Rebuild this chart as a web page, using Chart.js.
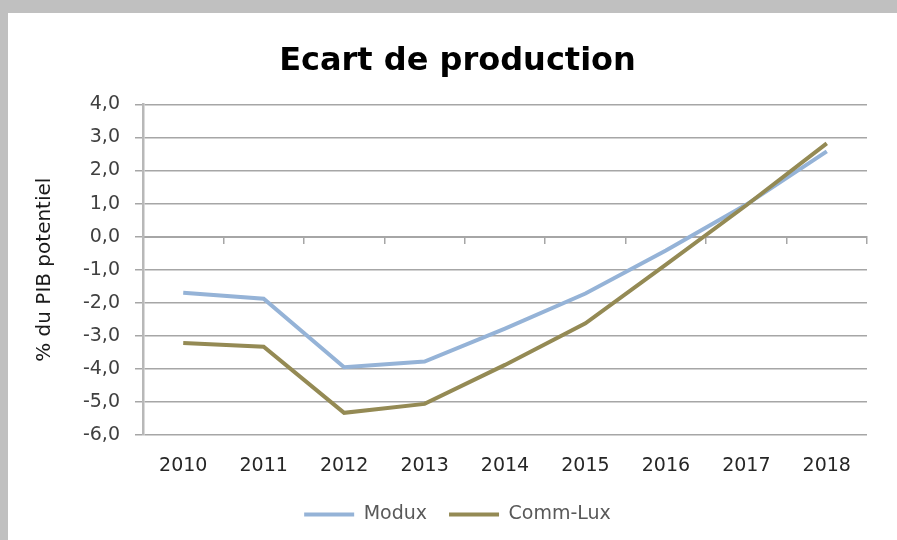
<!DOCTYPE html>
<html lang="fr">
<head>
<meta charset="utf-8">
<title>Ecart de production</title>
<script src="https://cdn.jsdelivr.net/npm/chart.js@4.4.1/dist/chart.umd.min.js"></script>
<style>
  html, body { margin: 0; padding: 0; }
  body { width: 897px; height: 540px; background: #c0c0c0; position: relative; overflow: hidden; }
  #frame { position: absolute; left: 8px; top: 13px; width: 889px; height: 527px; background: #fff; }
</style>
</head>
<body>
<div id="frame"><canvas id="chart"></canvas></div>
<script>
// years on the x axis
const years = ['2010', '2011', '2012', '2013', '2014', '2015', '2016', '2017', '2018'];

// output gap, % of potential GDP
const modux = [-1.70, -1.88, -3.95, -3.78, -2.78, -1.72, -0.42, 0.97, 2.58];
const commLux = [-3.22, -3.33, -5.33, -5.06, -3.88, -2.62, -0.85, 0.95, 2.82];

// y axis range / step
const yMin = -6;
const yMax = 4;
const yStep = 1;

const BLUE = '#95b3d7';
const OLIVE = '#948a54';
const GRID = '#a6a6a6';

const fmt = v => v.toFixed(1).replace('.', ',');

new Chart(document.getElementById('chart'), {
    type: 'line',
    data: {
        labels: years,
        datasets: [
            { label: 'Modux', data: modux, borderColor: BLUE, backgroundColor: BLUE, order: 1 },
            { label: 'Comm-Lux', data: commLux, borderColor: OLIVE, backgroundColor: OLIVE, order: 0 },
        ],
    },
    options: {
        responsive: true,
        maintainAspectRatio: false,
        animation: false,
        layout: { padding: { left: 40, right: 30, top: 0, bottom: 6 } },
        elements: {
            line: { borderWidth: 4, tension: 0, borderCapStyle: 'butt', borderJoinStyle: 'miter' },
            point: { radius: 0, hoverRadius: 0 },
        },
        plugins: {
            title: {
                display: true,
                text: 'Ecart de production',
                color: '#000',
                font: { family: 'DejaVu Sans', size: 32, weight: 'bold' },
                padding: { top: 29, bottom: 24 },
            },
            legend: {
                position: 'bottom',
                labels: {
                    boxWidth: 50,
                    boxHeight: 4,
                    padding: 22,
                    color: '#595959',
                    font: { family: 'DejaVu Sans', size: 19 },
                    // keep the legend in data order, whatever the draw order is
                    generateLabels: chart => chart.data.datasets.map((d, i) => ({
                        text: d.label,
                        fillStyle: d.borderColor,
                        strokeStyle: d.borderColor,
                        lineWidth: 0,
                        fontColor: '#595959',
                        datasetIndex: i,
                    })),
                },
            },
            tooltip: { enabled: false },
        },
        scales: {
            x: {
                type: 'category',
                position: 'bottom',
                offset: true,
                grid: { display: false, drawTicks: false },
                border: { display: false },
                ticks: {
                    padding: 20,
                    color: '#262626',
                    font: { family: 'DejaVu Sans', size: 19 },
                    maxRotation: 0,
                    autoSkip: false,
                },
                afterFit: scale => { scale.height = 48; },
            },
            // axis line drawn across zero, tick marks between categories
            x0: {
                type: 'category',
                position: { y: 0 },
                offset: true,
                grid: { offset: true, drawOnChartArea: false, drawTicks: true, tickLength: 6, color: GRID, lineWidth: 1.5 },
                border: { display: true, color: GRID, width: 2 },
                ticks: { display: false },
            },
            y: {
                min: yMin,
                max: yMax,
                ticks: {
                    stepSize: yStep,
                    padding: 15,
                    color: '#404040',
                    font: { family: 'DejaVu Sans', size: 19 },
                    callback: v => fmt(v),
                },
                grid: { color: GRID, lineWidth: 1.5, tickLength: 8 },
                border: { display: true, color: '#b8b8b8', width: 2.5 },
                title: {
                    display: true,
                    text: '% du PIB potentiel',
                    color: '#1a1a1a',
                    font: { family: 'DejaVu Sans', size: 20 },
                    padding: { top: -15, bottom: 0 },
                },
                afterFit: scale => { scale.width = 95; },
            },
        },
    },
});
</script>
</body>
</html>
